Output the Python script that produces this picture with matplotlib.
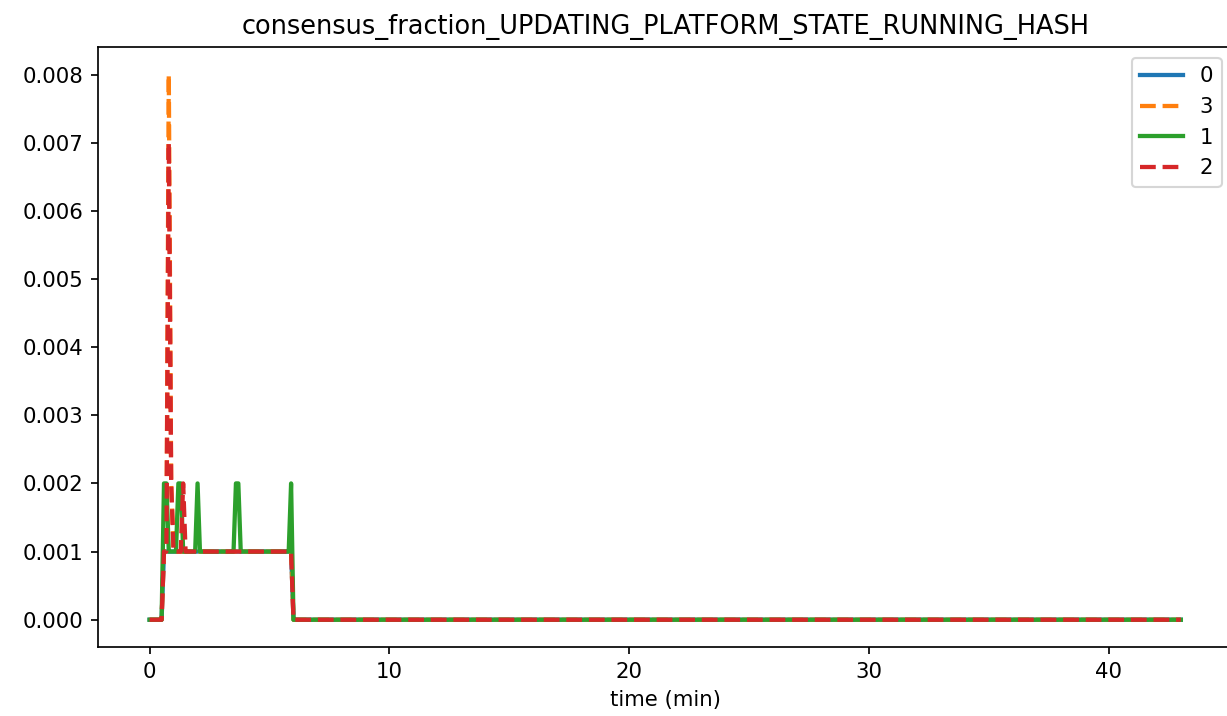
import matplotlib
matplotlib.use("Agg")
import matplotlib.pyplot as plt

# sample times (min): 0.0 .. 6.2 every 0.1, then the end of the run
t = [round(i * 0.1, 1) for i in range(63)] + [43.0]

# values for the active part (index = time*10), tail is zero
def series(peaks):
    v = [0.0] * 6 + [0.001] * 54 + [0.0] * 4
    for k, val in peaks.items():
        v[k] = val
    return v

node0 = series({})
node3 = series({8: 0.008, 9: 0.002})
node1 = series({6: 0.002, 7: 0.002, 12: 0.002, 13: 0.002, 20: 0.002,
                36: 0.002, 37: 0.002, 59: 0.002})
node2 = series({8: 0.007, 9: 0.002, 14: 0.002})

dpi = 153.4
fig = plt.figure(figsize=(1227 / dpi, 716 / dpi), dpi=dpi)
ax = fig.add_axes([0.0799, 0.0964, 0.9245, 0.8376])
ax.plot(t, node0, color="#1f77b4", lw=2, label="0")
ax.plot(t, node3, color="#ff7f0e", lw=2, linestyle="--", label="3")
ax.plot(t, node1, color="#2ca02c", lw=2, label="1")
ax.plot(t, node2, color="#d62728", lw=2, linestyle="--", label="2")
ax.set_title("consensus_fraction_UPDATING_PLATFORM_STATE_RUNNING_HASH")
ax.set_xlabel("time (min)")
ax.legend(loc="upper right")
fig.savefig("out.png", dpi=dpi)
